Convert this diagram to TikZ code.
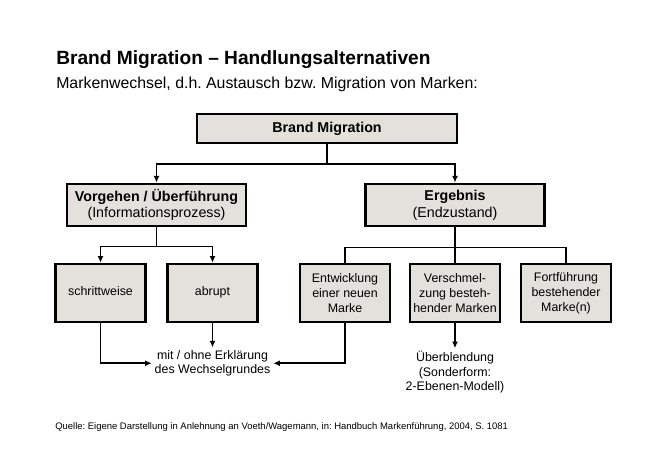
\documentclass[tikz,border=0pt]{standalone}
\usepackage{fontspec}
\setmainfont{Liberation Sans}
\usetikzlibrary{arrows.meta}
\frenchspacing
\definecolor{boxGray}{RGB}{228,224,220}
\tikzstyle{topPart} = [draw, line width=1.9pt, fill=boxGray, minimum width=195pt, minimum height=21.75pt, font=\fontsize{10.7}{12.5}\selectfont\bfseries]
\tikzstyle{midPart} = [draw, line width=1.9pt, fill=boxGray, minimum width=134pt, minimum height=31.75pt, align=center, font=\fontsize{10.7}{12.5}\selectfont]
\tikzstyle{lowPart} = [draw, line width=1.9pt, fill=boxGray, minimum width=67.5pt, minimum height=43.5pt, align=center, inner sep=1pt, font=\fontsize{9.3}{11.2}\selectfont]
\tikzstyle{notePart} = [align=center, inner sep=2pt, font=\fontsize{9.3}{10.6}\selectfont]
\tikzstyle{connector} = [line width=1.4pt, >={Latex[length=5pt,width=4.5pt]}]

\begin{document}
\begin{tikzpicture}[x=0.75pt, y=-0.75pt]
		\useasboundingbox (0,0) rectangle (670,470);
		\node (title) [anchor=base west, inner sep=0pt, font=\fontsize{14.35}{16}\selectfont\bfseries] at (56,65) {Brand Migration -- Handlungsalternativen};
		\node (subtitle) [anchor=base west, inner sep=0pt, font=\fontsize{11.9}{13}\selectfont] at (56,89) {Markenwechsel, d.h. Austausch bzw. Migration von Marken:};

		\node (brandMigration) [topPart] at (327,128.5) {Brand Migration};
		\path (brandMigration)+(-170.5,76.5) node (vorgehen) [midPart] {\textbf{Vorgehen / Überführung}\\(Informationsprozess)};
		\path (brandMigration)+(128,76.5) node (ergebnis) [midPart] {\textbf{Ergebnis}\\(Endzustand)};

		\path (vorgehen)+(-56,88) node (schrittweise) [lowPart] {\strut schrittweise};
		\path (vorgehen)+(56,88) node (abrupt) [lowPart] {\strut abrupt};
		\path (ergebnis)+(-110,88) node (entwicklung) [lowPart] {Entwicklung\\einer neuen\\Marke};
		\path (ergebnis)+(0,88) node (verschmelzung) [lowPart] {Verschmel-\\zung besteh-\\hender Marken};
		\path (ergebnis)+(111,88) node (fortfuehrung) [lowPart] {Fortführung\\bestehender\\Marke(n)};

		\path (abrupt.south)+(0,40) node (erklaerung) [notePart] {mit / ohne Erklärung\\des Wechselgrundes};
		\path (verschmelzung.south)+(0,49) node (ueberblendung) [notePart, font=\fontsize{9.3}{11}\selectfont] {Überblendung\\(Sonderform:\\2-Ebenen-Modell)};

		% Helpers for the forks
		\path (brandMigration.south)+(0,20) coordinate (topFork);
		\path (vorgehen.south)+(0,19) coordinate (leftFork);
		\path (ergebnis.south)+(0,20) coordinate (rightFork);

		\path [draw, connector] (brandMigration.south) -- (topFork);
		\path [draw, connector, ->] (topFork) -| (vorgehen.north);
		\path [draw, connector, ->] (topFork) -| (ergebnis.north);

		\path [draw, connector] (vorgehen.south) -- (leftFork);
		\path [draw, connector, ->] (leftFork) -| (schrittweise.north);
		\path [draw, connector, ->] (leftFork) -| (abrupt.north);

		\path [draw, connector] (ergebnis.south) -- (verschmelzung.north);
		\path [draw, connector] (rightFork) -| (entwicklung.north);
		\path [draw, connector] (rightFork) -| (fortfuehrung.north);

		\path [draw, connector, ->] (abrupt.south) -- (erklaerung.north);
		\path [draw, connector, ->] (schrittweise.south) |- (erklaerung.west);
		\path [draw, connector, ->] (entwicklung.south) |- (erklaerung.east);
		\path [draw, connector, ->] (verschmelzung.south) -- (ueberblendung.north);

		\node (quelle) [anchor=base west, inner sep=0pt, font=\fontsize{7.1}{8}\selectfont] at (55,429) {Quelle: Eigene Darstellung in Anlehnung an Voeth/Wagemann, in: Handbuch Markenführung, 2004, S. 1081};
	\end{tikzpicture}
\end{document}
